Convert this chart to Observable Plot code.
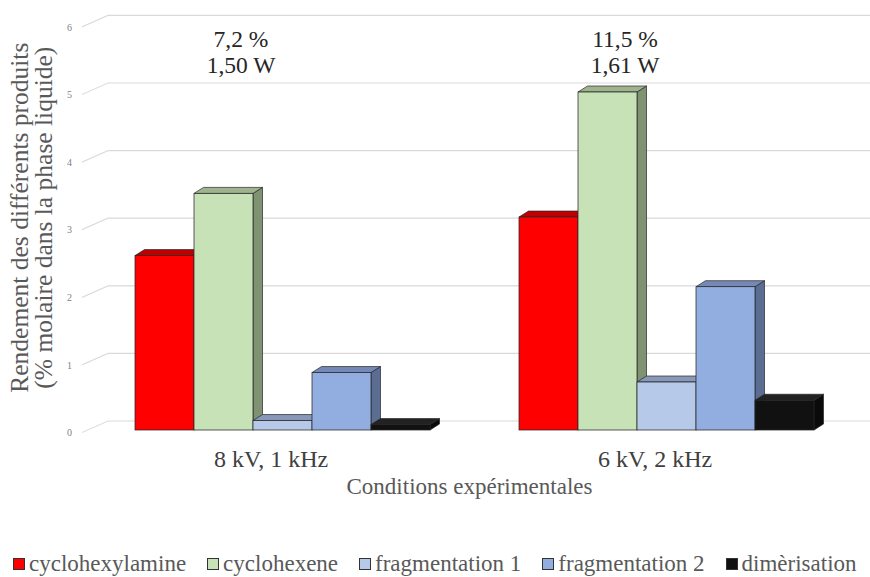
<!DOCTYPE html>
<html><head><meta charset="utf-8">
<script src="https://cdn.jsdelivr.net/npm/d3@7"></script>
<script src="https://cdn.jsdelivr.net/npm/@observablehq/plot@0.6"></script>
<style>
body{margin:0;background:#fff;}
#wrap{position:relative;width:870px;height:577px;overflow:hidden;font-family:"Liberation Serif",serif;background:#fff;}
#wrap svg{position:absolute;left:0;top:0;background:transparent;}
#wrap svg text{font-family:"Liberation Serif",serif !important;}
#legend{position:absolute;left:13px;top:551px;display:flex;align-items:center;white-space:nowrap;font-size:23px;color:#595959;}
.item{display:flex;align-items:center;margin-right:21px;}
.item:last-child{margin-right:0;}
.sw{width:10px;height:10px;border:1px solid #333;margin-right:4px;box-sizing:content-box;}
</style></head><body>
<div id="wrap"><div id="legend"></div></div>
<script>
// ---- data ----
const conditions = ["8 kV, 1 kHz", "6 kV, 2 kHz"];
const series = ["cyclohexylamine", "cyclohexene", "fragmentation 1", "fragmentation 2", "dimèrisation"];
const cyclohexylamine = [2.58, 3.15];
const cyclohexene = [3.5, 5.0];
const fragmentation1 = [0.14, 0.71];
const fragmentation2 = [0.85, 2.12];
const dimerisation = [0.08, 0.44];
const annotations = ["7,2 %\n1,50 W", "11,5 %\n1,61 W"];
const yTicks = [0, 1, 2, 3, 4, 5, 6];
const yTitle = "Rendement des différents produits\n(% molaire dans la phase liquide)";
const xTitle = "Conditions expérimentales";

// ---- styles ----
const FONT = "Liberation Serif";
const frontColors = ["#ff0000", "#c8e2b8", "#b7c9e8", "#92addf", "#111111"];
const topColors   = ["#c00000", "#9fb48e", "#8898b9", "#7489b6", "#222222"];
const sideColors  = ["#b00000", "#7f9373", "#7e8eae", "#5b6d93", "#0a0a0a"];
const W = 870, H = 520, MT = 24.4, MB = 90;
const DX = 9.5, DY = -6;

const valuesBySeries = [cyclohexylamine, cyclohexene, fragmentation1, fragmentation2, dimerisation];
const rows = conditions.flatMap((c, i) => series.map((s, j) => ({cond: c, series: s, value: valuesBySeries[j][i]})));
const annRows = conditions.map((c, i) => ({cond: c, label: annotations[i]}));

// ---- background layer: back wall grid, y axis ----
const grid = Plot.plot({
  width: W, height: H, marginTop: MT, marginBottom: MB, marginLeft: 108, marginRight: 0,
  style: {background: "transparent", fontFamily: FONT},
  x: {type: "linear", domain: [0, 1], range: [82, 108], axis: null},
  y: {domain: [0, 6], axis: null},
  marks: [
    Plot.ruleY(yTicks, {y: d => d, dy: -9.5, stroke: "#d9d9d9", strokeWidth: 1.2}),
    Plot.ruleY(yTicks, {y: d => d, x1: () => 0, x2: () => 1, dy: 2, stroke: "#d9d9d9", strokeWidth: 1.2, className: "ydiag"}),
    Plot.text(yTicks, {y: d => d, x: () => 0, text: d => String(d), dx: -13, dy: 2.5, textAnchor: "middle", fontSize: 10, fontFamily: FONT, fill: "#7f7f7f"}),
    Plot.text([yTitle], {x: () => 0, text: d => d, frameAnchor: "middle", dx: -50, dy: -10, rotate: -90, fontSize: 25.5, lineHeight: 0.95, fontFamily: FONT, fill: "#595959"}),
    Plot.text([xTitle], {text: d => d, frameAnchor: "bottom", dx: -20, dy: 63, fontSize: 23, fontFamily: FONT, fill: "#595959"})
  ]
});
{
  const x0 = grid.scale("x").apply(0), x1 = grid.scale("x").apply(1);
  const ang = Math.atan(-11.5 / (x1 - x0)) * 180 / Math.PI;
  grid.querySelectorAll("g.ydiag").forEach(g => {
    const ex = g.getAttribute("transform") || "";
    g.setAttribute("transform", `translate(${x0},0) skewY(${ang}) translate(${-x0},0) ${ex}`);
  });
}

// ---- bars layer ----
const barMarks = [];
series.forEach((s, j) => {
  const data = rows.filter(r => r.series === s);
  const common = {fx: "cond", x: "series", y: "value"};
  barMarks.push(Plot.barY(data, {...common, fill: sideColors[j], stroke: "#262626", strokeWidth: 0.7, className: "bar-side"}));
  barMarks.push(Plot.barY(data, {...common, fill: topColors[j], stroke: "#262626", strokeWidth: 0.7, className: "bar-top"}));
  barMarks.push(Plot.barY(data, {...common, fill: frontColors[j], stroke: "#262626", strokeWidth: 0.75}));
});

const bars = Plot.plot({
  width: W, height: H, marginTop: MT, marginBottom: MB, marginLeft: 95, marginRight: 15.6,
  style: {background: "transparent", fontFamily: FONT},
  fx: {domain: conditions, paddingInner: 0.233, paddingOuter: 0.104, label: null},
  x: {domain: series, paddingInner: 0, paddingOuter: 0, axis: null},
  y: {domain: [0, 6], axis: null},
  marks: [
    ...barMarks,
    Plot.text(annRows, {fx: "cond", x: () => "cyclohexene", text: "label", frameAnchor: "top", lineAnchor: "top", dx: 17, dy: 4, fontSize: 23.5, lineHeight: 1.1, fontFamily: FONT, fill: "#262626"}),
    Plot.axisFx({anchor: "bottom", label: null, tickSize: 0, tickPadding: 19, fontSize: 24, fontFamily: FONT, fill: "#404040", dx: -12})
  ]
});

function toPoly(svg, cls, kind) {
  svg.querySelectorAll(`g.${cls} rect`).forEach(r => {
    const x = +r.getAttribute("x"), y = +r.getAttribute("y");
    const w = +r.getAttribute("width"), h = +r.getAttribute("height");
    const pts = kind === "top"
      ? [[x, y], [x + DX, y + DY], [x + w + DX, y + DY], [x + w, y]]
      : [[x + w, y], [x + w + DX, y + DY], [x + w + DX, y + h + DY], [x + w, y + h]];
    const p = document.createElementNS("http://www.w3.org/2000/svg", "polygon");
    p.setAttribute("points", pts.map(q => q.join(",")).join(" "));
    r.replaceWith(p);
  });
}
toPoly(bars, "bar-side", "side");
toPoly(bars, "bar-top", "top");

const wrap = document.getElementById("wrap");
wrap.insertBefore(grid, wrap.firstChild);
wrap.insertBefore(bars, document.getElementById("legend"));

// ---- legend ----
const legend = document.getElementById("legend");
series.forEach((s, j) => {
  const it = document.createElement("div"); it.className = "item";
  const sw = document.createElement("span"); sw.className = "sw"; sw.style.background = frontColors[j];
  const tx = document.createElement("span"); tx.textContent = s;
  it.appendChild(sw); it.appendChild(tx); legend.appendChild(it);
});
</script>
</body></html>
